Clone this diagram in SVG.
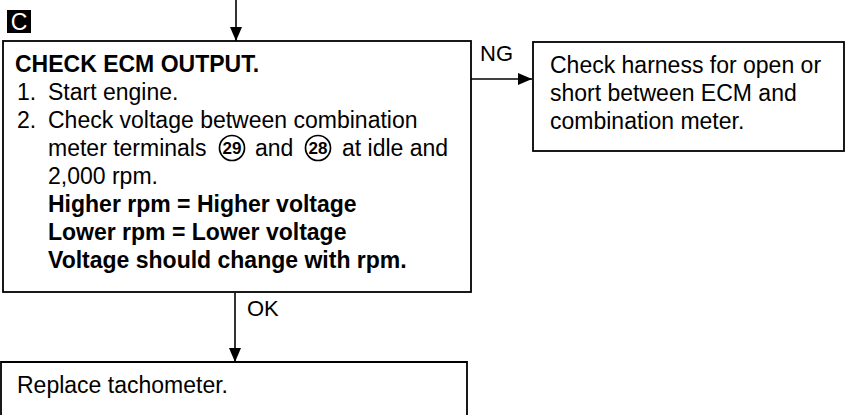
<svg xmlns="http://www.w3.org/2000/svg" width="851" height="415" viewBox="0 0 851 415">
<style>
  .box { fill: #fff; stroke: #000; stroke-width: 1.8; }
  .t { font-family: "Liberation Sans", Arial, sans-serif; font-size: 23px; fill: #000; }
  .b { font-weight: bold; }
  .num { font-family: "Liberation Sans", Arial, sans-serif; font-size: 17px; font-weight: bold; fill: #000; text-anchor: middle; }
  .ring { fill: none; stroke: #000; stroke-width: 1.7; }
  .conn { stroke: #000; stroke-width: 1.6; fill: none; }
</style>
<defs>
  <marker id="arr" markerUnits="userSpaceOnUse" markerWidth="14" markerHeight="14" viewBox="0 0 14 12" refX="14" refY="6" orient="auto">
    <path d="M0,0 L14,6 L0,12 Z" fill="#000"/>
  </marker>
</defs>
<rect width="851" height="415" fill="#fff"/>

<g id="badge">
  <rect x="7" y="10" width="24" height="23" fill="#000"/>
  <text x="19" y="30" class="t" style="fill:#fff;font-size:23px" text-anchor="middle">C</text>
</g>

<g id="connectors">
  <line class="conn" x1="236" y1="0" x2="236" y2="41" marker-end="url(#arr)"/>
  <line class="conn" x1="471" y1="79" x2="532" y2="79" marker-end="url(#arr)"/>
  <line class="conn" x1="235" y1="293" x2="235" y2="362" marker-end="url(#arr)"/>
  <text x="480" y="61" class="t" style="font-size:22px">NG</text>
  <text x="247" y="316" class="t" style="font-size:22px">OK</text>
</g>

<g id="check-ecm">
  <rect class="box" x="3" y="41" width="468" height="251"/>
  <text x="15" y="72" class="t b">CHECK ECM OUTPUT.</text>
  <text x="17" y="100" class="t">1.</text>
  <text x="48" y="100" class="t">Start engine.</text>
  <text x="17" y="128" class="t">2.</text>
  <text x="48" y="128" class="t">Check voltage between combination</text>
  <text x="48" y="156" class="t">meter terminals</text>
  <circle class="ring" cx="232" cy="148" r="12.5"/>
  <text x="232" y="154" class="num">29</text>
  <text x="255" y="156" class="t">and</text>
  <circle class="ring" cx="318" cy="148" r="12.5"/>
  <text x="318" y="154" class="num">28</text>
  <text x="342" y="156" class="t">at idle and</text>
  <text x="48" y="184" class="t">2,000 rpm.</text>
  <text x="48" y="212" class="t b">Higher rpm = Higher voltage</text>
  <text x="48" y="240" class="t b">Lower rpm = Lower voltage</text>
  <text x="48" y="268" class="t b">Voltage should change with rpm.</text>
</g>

<g id="check-harness">
  <rect class="box" x="533" y="42" width="311" height="109"/>
  <text x="550" y="73" class="t">Check harness for open or</text>
  <text x="550" y="101" class="t">short between ECM and</text>
  <text x="550" y="129" class="t">combination meter.</text>
</g>

<g id="replace-tachometer">
  <path class="box" d="M1,416 V362 H467 V416"/>
  <text x="17" y="393" class="t">Replace tachometer.</text>
</g>
</svg>
